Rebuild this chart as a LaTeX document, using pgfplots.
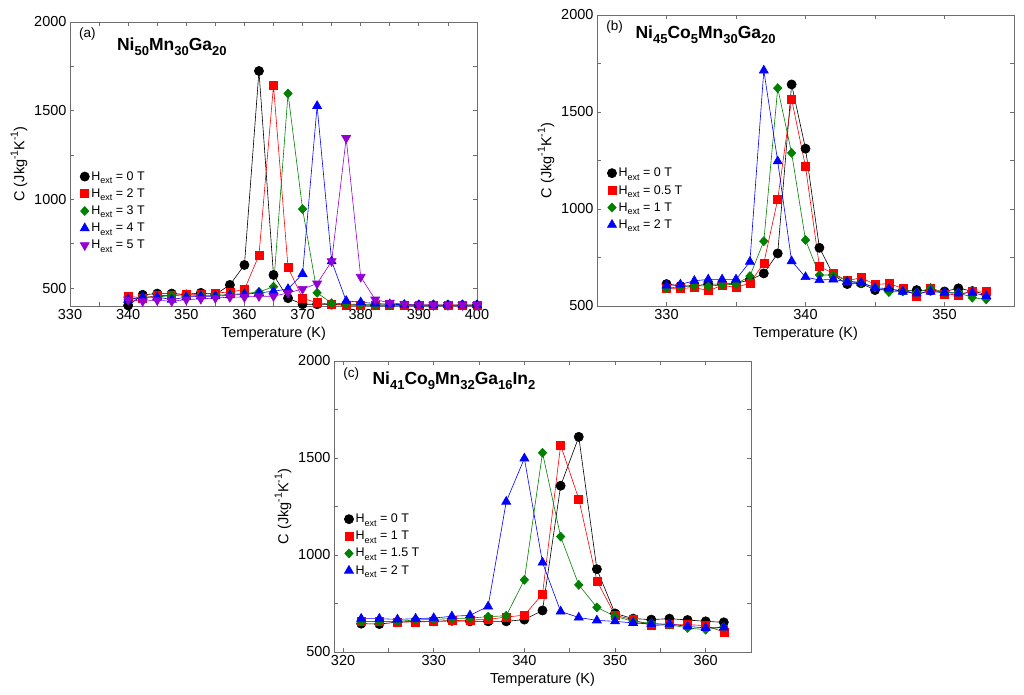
\documentclass[border=0pt]{standalone}
\usepackage{pgfplots}
\pgfplotsset{compat=1.18}
\usepackage{fontspec}
\setmainfont{Liberation Sans}
\definecolor{cgreen}{RGB}{0,128,0}
\definecolor{cpurple}{RGB}{148,0,211}
\definecolor{framegray}{RGB}{110,110,110}
\newcommand\tsb[1]{\raisebox{-0.55ex}{\fontsize{13}{14}\selectfont\bfseries #1}}
\newcommand\lsb[1]{\raisebox{-0.5ex}{\fontsize{9}{10}\selectfont #1}}
\newcommand\ysp[1]{\raisebox{0.85ex}{\fontsize{10.5}{12}\selectfont #1}}
\pgfplotsset{
  panel/.style={
    scale only axis,
    anchor=south west,
    axis line style={framegray, line width=0.8pt},
    every tick/.style={framegray, line width=0.8pt},
    major tick length=4pt, minor tick length=4pt,
    minor tick num=1,
    tick align=inside,
    /pgf/number format/assume math mode=true,
    /pgf/number format/set thousands separator={},
    ticklabel style={font=\fontsize{14.5}{16}\selectfont},
    label style={font=\fontsize{14.5}{16}\selectfont},
    xlabel={Temperature (K)},
    ylabel={C (Jkg\ysp{-1}K\ysp{-1})},
    legend cell align=left,
    legend style={draw=none, fill=none, font=\fontsize{12.5}{13}\selectfont,
      row sep=3pt, inner sep=1pt},
    legend image code/.code={\draw[#1] plot[only marks] coordinates {(0.12cm,0cm)};},
    every axis plot/.append style={line width=0.6pt},
  },
  sblack/.style={black, mark=*, mark size=4.6pt, mark options={solid, fill=black}},
  sred/.style={red, mark=square*, mark size=4pt, mark options={solid, fill=red}},
  sgreen/.style={cgreen, mark=diamond*, mark size=4.5pt, mark options={solid, fill=cgreen, xscale=1.25}},
  sblue/.style={blue, mark=triangle*, mark size=5.2pt, mark options={solid, fill=blue}},
  spurple/.style={cpurple, mark=triangle*, mark size=5.2pt, mark options={solid, fill=cpurple, rotate=180}},
}
\begin{document}
\begin{tikzpicture}
\path[use as bounding box] (0pt,0pt) rectangle (1024pt,695pt);

% ---------------- panel (a)
\begin{axis}[panel, at={(70pt,389pt)}, width=407pt, height=284pt,
  xmin=330, xmax=400, ymin=400, ymax=2000,
  xtick={330,340,350,360,370,380,390,400},
  ytick={500,1000,1500,2000},
  legend style={at={(0.022,0.485)}, anchor=north west}]
\addplot[sblack] coordinates {(340,403)(342.5,463)(345,470)(347.5,470)(350,465)(352.5,474)(355,465)(357.5,519)(360,631)(362.5,1724)(365,575)(367.5,444)(370,410)(372.5,410)(375,408)(377.5,406)(380,405)(382.5,405)(385,405)(387.5,405)(390,405)(392.5,405)(395,405)(397.5,405)(400,405)};
\addlegendentry{H\lsb{ext} = 0 T}
\addplot[sred] coordinates {(340,455)(342.5,445)(345,459)(347.5,459)(350,466)(352.5,466)(355,474)(357.5,478)(360,493)(362.5,686)(365,1642)(367.5,616)(370,444)(372.5,418)(375,410)(377.5,406)(380,405)(382.5,405)(385,405)(387.5,405)(390,405)(392.5,405)(395,405)(397.5,405)(400,405)};
\addlegendentry{H\lsb{ext} = 2 T}
\addplot[sgreen] coordinates {(340,436)(342.5,450)(345,450)(347.5,460)(350,455)(352.5,460)(355,460)(357.5,465)(360,470)(362.5,479)(365,509)(367.5,1597)(370,946)(372.5,474)(375,416)(377.5,412)(380,408)(382.5,406)(385,405)(387.5,405)(390,405)(392.5,405)(395,405)(397.5,405)(400,405)};
\addlegendentry{H\lsb{ext} = 3 T}
\addplot[sblue] coordinates {(340,436)(342.5,450)(345,450)(347.5,436)(350,450)(352.5,455)(355,455)(357.5,460)(360,466)(362.5,474)(365,483)(367.5,496)(370,581)(372.5,1527)(375,652)(377.5,429)(380,421)(382.5,414)(385,410)(387.5,407)(390,405)(392.5,405)(395,405)(397.5,405)(400,405)};
\addlegendentry{H\lsb{ext} = 4 T}
\addplot[spurple] coordinates {(340,436)(342.5,427)(345,432)(347.5,427)(350,436)(352.5,440)(355,445)(357.5,450)(360,450)(362.5,455)(365,455)(367.5,474)(370,496)(372.5,526)(375,652)(377.5,1346)(380,564)(382.5,436)(385,418)(387.5,410)(390,406)(392.5,405)(395,405)(397.5,405)(400,405)};
\addlegendentry{H\lsb{ext} = 5 T}
\node[anchor=west, font=\fontsize{13.5}{15}\selectfont] at (rel axis cs:0.014,0.957) {(a)};
\node[anchor=base west, font=\fontsize{17.5}{19}\selectfont\bfseries] at (rel axis cs:0.107,0.9) {Ni\tsb{50}Mn\tsb{30}Ga\tsb{20}};
\end{axis}

% ---------------- panel (b)
\begin{axis}[panel, at={(597pt,389pt)}, width=417pt, height=291pt,
  xmin=325, xmax=355, ymin=500, ymax=2000,
  xtick={330,340,350},
  ytick={500,1000,1500,2000},
  legend style={at={(0.022,0.485)}, anchor=north west}]
\addplot[sblack] coordinates {(330,613)(331,603)(332,603)(333,613)(334,613)(335,617)(336,634)(337,668)(338,771)(339,1642)(340,1311)(341,800)(342,660)(343,613)(344,617)(345,582)(346,586)(347,579)(348,582)(349,579)(350,575)(351,591)(352,577)(353,560)};
\addlegendentry{H\lsb{ext} = 0 T}
\addplot[sred] coordinates {(330,589)(331,589)(332,596)(333,579)(334,606)(335,596)(336,618)(337,721)(338,1049)(339,1566)(340,1218)(341,704)(342,668)(343,630)(344,646)(345,611)(346,615)(347,591)(348,552)(349,589)(350,562)(351,557)(352,577)(353,577)};
\addlegendentry{H\lsb{ext} = 0.5 T}
\addplot[sgreen] coordinates {(330,591)(331,600)(332,605)(333,603)(334,608)(335,613)(336,654)(337,834)(338,1623)(339,1289)(340,840)(341,660)(342,660)(343,630)(344,620)(345,596)(346,572)(347,575)(348,569)(349,593)(350,569)(351,569)(352,543)(353,534)};
\addlegendentry{H\lsb{ext} = 1 T}
\addplot[sblue] coordinates {(330,606)(331,611)(332,630)(333,637)(334,637)(335,637)(336,728)(337,1714)(338,1246)(339,731)(340,649)(341,634)(342,637)(343,625)(344,620)(345,594)(346,589)(347,574)(348,565)(349,574)(350,569)(351,565)(352,569)(353,552)};
\addlegendentry{H\lsb{ext} = 2 T}
\node[anchor=west, font=\fontsize{13.5}{15}\selectfont] at (rel axis cs:0.014,0.957) {(b)};
\node[anchor=base west, font=\fontsize{17.5}{19}\selectfont\bfseries] at (rel axis cs:0.084,0.92) {Ni\tsb{45}Co\tsb{5}Mn\tsb{30}Ga\tsb{20}};
\end{axis}

% ---------------- panel (c)
\begin{axis}[panel, at={(334pt,43pt)}, width=417pt, height=291pt,
  xmin=319, xmax=365, ymin=500, ymax=2000,
  xtick={320,330,340,350,360},
  ytick={500,1000,1500,2000},
  legend style={at={(0.022,0.485)}, anchor=north west}]
\addplot[sblack] coordinates {(322,646)(324,644)(326,654)(328,658)(330,658)(332,661)(334,658)(336,658)(338,658)(340,667)(342,714)(344,1357)(346,1609)(348,927)(350,699)(352,672)(354,667)(356,672)(358,665)(360,658)(362,653)};
\addlegendentry{H\lsb{ext} = 0 T}
\addplot[sred] coordinates {(322,658)(324,658)(326,654)(328,654)(330,658)(332,661)(334,665)(336,668)(338,680)(340,690)(342,798)(344,1566)(346,1289)(348,867)(350,689)(352,667)(354,636)(356,641)(358,641)(360,636)(362,603)};
\addlegendentry{H\lsb{ext} = 1 T}
\addplot[sgreen] coordinates {(322,658)(324,658)(326,658)(328,665)(330,668)(332,672)(334,675)(336,682)(338,687)(340,872)(342,1527)(344,1095)(346,846)(348,730)(350,684)(352,658)(354,648)(356,641)(358,624)(360,615)(362,629)};
\addlegendentry{H\lsb{ext} = 1.5 T}
\addplot[sblue] coordinates {(322,672)(324,672)(326,668)(328,672)(330,675)(332,684)(334,689)(336,735)(338,1275)(340,1498)(342,961)(344,709)(346,678)(348,663)(350,658)(352,650)(354,644)(356,644)(358,632)(360,624)(362,627)};
\addlegendentry{H\lsb{ext} = 2 T}
\node[anchor=west, font=\fontsize{13.5}{15}\selectfont] at (rel axis cs:0.014,0.957) {(c)};
\node[anchor=base west, font=\fontsize{17.5}{19}\selectfont\bfseries] at (rel axis cs:0.084,0.92) {Ni\tsb{41}Co\tsb{9}Mn\tsb{32}Ga\tsb{16}In\tsb{2}};
\end{axis}
\end{tikzpicture}
\end{document}
